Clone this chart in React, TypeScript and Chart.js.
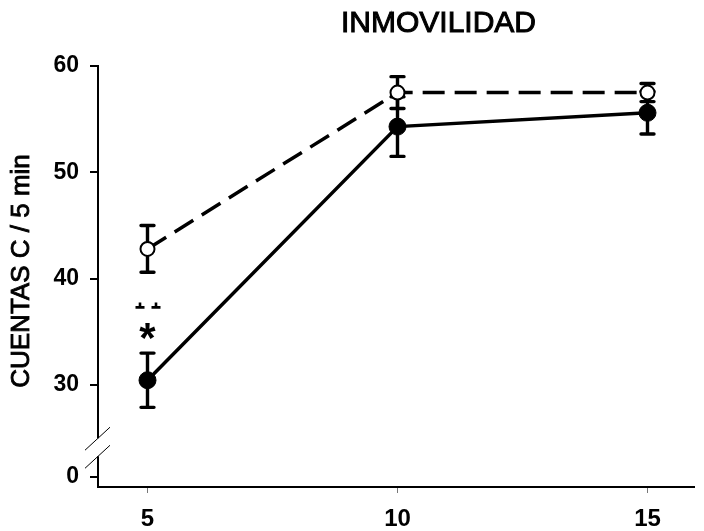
import React, { useEffect, useRef } from "react";
import { Chart, registerables } from "chart.js";

Chart.register(...registerables);

// ---- data ----
const X_VALUES = [5, 10, 15];
const X_TICKS = [5, 10, 15];
const Y_TICKS = [0, 30, 40, 50, 60];
const FILLED_MEAN = [30.45, 54.3, 55.6];
const FILLED_ERR = [2.55, 2.8, 2.0];
const OPEN_MEAN = [42.8, 57.5, 57.5];
const OPEN_ERR = [2.2, 1.5, 0.85];
const TITLE = "INMOVILIDAD";
const Y_LABEL = "CUENTAS C / 5 min";
const STAR_TEXT = "*";
const STAR_X = 5;
const STAR_Y = 35.2;
const MARKS_Y = 37.3;

// broken axis: real 0 is shown at this axis position
const ZERO_AXIS = 21.35;
const BREAK_TOP = 25.0;
const BREAK_BOTTOM = 23.3;
const toAxis = (v: number) => (v < 20 ? ZERO_AXIS + v : v);

const FONT = "'Liberation Sans', Arial, sans-serif";

const overlay = {
  id: "overlay",
  beforeDatasetsDraw(chart: any) {
    const ctx = chart.ctx;
    const xs = chart.scales.x;
    const ys = chart.scales.y;
    const draw = (means: number[], errs: number[]) => {
      ctx.save();
      ctx.strokeStyle = "#000";
      ctx.lineWidth = 3.4;
      ctx.lineCap = "round";
      X_VALUES.forEach((xv, i) => {
        const px = xs.getPixelForValue(xv);
        const top = ys.getPixelForValue(toAxis(means[i] + errs[i]));
        const bot = ys.getPixelForValue(toAxis(means[i] - errs[i]));
        ctx.beginPath();
        ctx.moveTo(px, top);
        ctx.lineTo(px, bot);
        ctx.moveTo(px - 6.5, top);
        ctx.lineTo(px + 6.5, top);
        ctx.moveTo(px - 6.5, bot);
        ctx.lineTo(px + 6.5, bot);
        ctx.stroke();
      });
      ctx.restore();
    };
    draw(FILLED_MEAN, FILLED_ERR);
    draw(OPEN_MEAN, OPEN_ERR);
  },
  afterDraw(chart: any) {
    const ctx = chart.ctx;
    const xs = chart.scales.x;
    const ys = chart.scales.y;
    const area = chart.chartArea;
    ctx.save();
    // y axis line with break
    const ax = area.left;
    ctx.strokeStyle = "#000";
    ctx.lineWidth = 2;
    ctx.beginPath();
    ctx.moveTo(ax, ys.getPixelForValue(60) - 1);
    ctx.lineTo(ax, ys.getPixelForValue(BREAK_TOP));
    ctx.moveTo(ax, ys.getPixelForValue(BREAK_BOTTOM));
    ctx.lineTo(ax, area.bottom);
    ctx.stroke();
    // break marks
    ctx.lineWidth = 1;
    [BREAK_TOP, BREAK_BOTTOM].forEach((v) => {
      const py = ys.getPixelForValue(v);
      ctx.beginPath();
      ctx.moveTo(ax - 13, py + 12);
      ctx.lineTo(ax + 12, py - 11);
      ctx.stroke();
    });
    // title
    ctx.fillStyle = "#000";
    ctx.strokeStyle = "#000";
    ctx.lineWidth = 1.0;
    ctx.font = `30px ${FONT}`;
    ctx.textAlign = "center";
    ctx.textBaseline = "middle";
    ctx.fillText(TITLE, 438.5, 24);
    ctx.strokeText(TITLE, 438.5, 24);
    // y label
    ctx.save();
    ctx.translate(22, 271);
    ctx.rotate(-Math.PI / 2);
    ctx.font = `26px ${FONT}`;
    ctx.lineWidth = 0.85;
    ctx.fillText(Y_LABEL, 0, 0);
    ctx.strokeText(Y_LABEL, 0, 0);
    ctx.restore();
    // significance marks
    const sx = xs.getPixelForValue(STAR_X);
    ctx.font = `bold 42px ${FONT}`;
    ctx.textBaseline = "alphabetic";
    ctx.fillText(STAR_TEXT, sx, ys.getPixelForValue(STAR_Y) + 22);
    const my = ys.getPixelForValue(MARKS_Y);
    ctx.lineWidth = 2.6;
    [-7.5, 8.5].forEach((dx) => {
      ctx.beginPath();
      ctx.moveTo(sx + dx - 4.5, my);
      ctx.lineTo(sx + dx + 4.5, my);
      ctx.moveTo(sx + dx, my);
      ctx.lineTo(sx + dx, my - 5);
      ctx.stroke();
    });
    ctx.restore();
  },
};

export default function App() {
  const ref = useRef<HTMLCanvasElement | null>(null);
  useEffect(() => {
    if (!ref.current) return;
    const chart = new Chart(ref.current, {
      type: "line",
      data: {
        datasets: [
          {
            label: "filled",
            data: X_VALUES.map((x, i) => ({ x, y: toAxis(FILLED_MEAN[i]) })),
            borderColor: "#000",
            borderWidth: 3.5,
            backgroundColor: "#000",
            pointBackgroundColor: "#000",
            pointBorderColor: "#000",
            pointRadius: 8.5,
            pointBorderWidth: 1,
            tension: 0,
          },
          {
            label: "open",
            data: X_VALUES.map((x, i) => ({ x, y: toAxis(OPEN_MEAN[i]) })),
            borderColor: "#000",
            borderWidth: 3.5,
            borderDash: [22, 10],
            backgroundColor: "#fff",
            pointBackgroundColor: "#fff",
            pointBorderColor: "#000",
            pointRadius: 7,
            pointBorderWidth: 2,
            tension: 0,
          },
        ],
      },
      options: {
        animation: false,
        responsive: true,
        maintainAspectRatio: false,
        layout: { padding: { top: 66, right: 4, left: 0, bottom: 0 } },
        plugins: { legend: { display: false }, tooltip: { enabled: false }, title: { display: false } },
        scales: {
          x: {
            type: "linear",
            min: 4.01,
            max: 15.94,
            afterBuildTicks: (s: any) => {
              s.ticks = X_TICKS.map((v) => ({ value: v }));
            },
            afterFit: (s: any) => {
              s.height = 44;
            },
            border: { display: true, color: "#000", width: 2 },
            grid: { drawOnChartArea: false, drawTicks: true, tickLength: 6, color: "#777", lineWidth: 1 },
            ticks: {
              color: "#000",
              padding: 12,
              maxRotation: 0,
              font: { family: FONT, size: 24, weight: "bold" },
              callback: (_v: any, i: number) => String(X_TICKS[i]),
            },
          },
          y: {
            type: "linear",
            min: 20.41,
            max: 60,
            afterBuildTicks: (s: any) => {
              s.ticks = Y_TICKS.map((v) => ({ value: toAxis(v) }));
            },
            afterFit: (s: any) => {
              s.width = 98;
            },
            border: { display: false },
            grid: { drawOnChartArea: false, drawTicks: true, tickLength: 8, color: "#000", lineWidth: 2 },
            ticks: {
              color: "#000",
              padding: 11,
              font: { family: FONT, size: 23, weight: "bold" },
              callback: (_v: any, i: number) => String(Y_TICKS[i]),
            },
          },
        },
      },
      plugins: [overlay],
    } as any);
    return () => chart.destroy();
  }, []);
  return (
    <div style={{ position: "fixed", left: 0, top: 0, width: 704, height: 531, background: "#fff" }}>
      <canvas ref={ref} />
    </div>
  );
}
